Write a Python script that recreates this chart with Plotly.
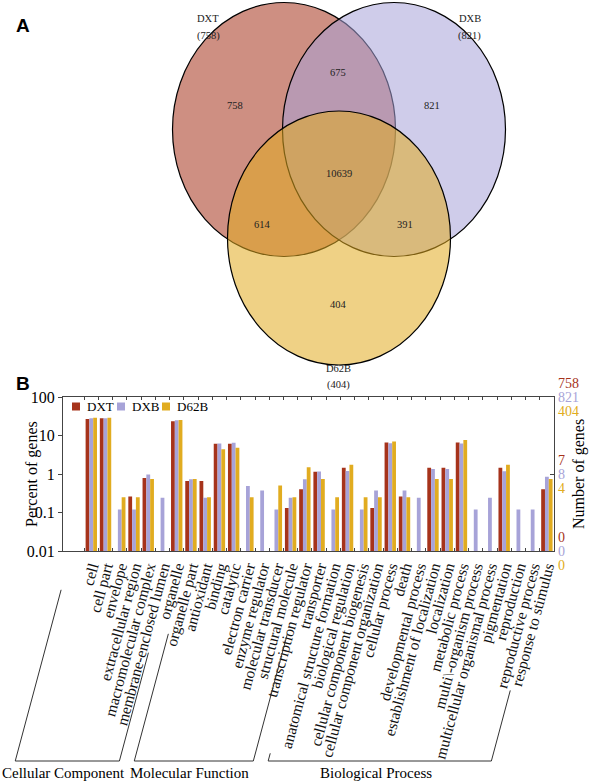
import math
import plotly.graph_objects as go

# ---------------- data ----------------
categories = [
    "cell", "cell part", "envelope", "extracellular region", "macromolecular complex",
    "membrane-enclosed lumen", "organelle", "organelle part",
    "antioxidant", "binding", "catalytic", "electron carrier", "enzyme regulator",
    "molecular transducer", "structural molecule", "transcription regulator", "transporter",
    "anatomical structure formation", "biological regulation", "cellular component biogenesis",
    "cellular component organization", "cellular process", "death", "developmental process",
    "establishment of localization", "localization", "metabolic process",
    "multi\\-organism process", "multicellular organismal process", "pigmentation",
    "reproduction", "reproductive process", "response to stimulus",
]
series_names = ["DXT", "DXB", "D62B"]
dxt = [26.9, 27.9, None, 0.26, 0.79, None, 23.4, 0.66,
       0.66, 6.1, 6.1, None, None, None, 0.13, 0.40, 1.14,
       None, 1.45, None, 0.13, 6.6, 0.26, None, 1.45, 1.45, 6.6,
       None, None, 1.45, None, None, 0.40]
dxb = [27.9, 27.9, 0.12, 0.12, 0.97, 0.24, 24.8, 0.73,
       0.24, 6.2, 6.5, 0.49, 0.37, 0.12, 0.24, 0.73, 1.16,
       0.12, 1.20, 0.12, 0.37, 6.3, 0.37, 0.24, 1.34, 1.34, 6.2,
       0.12, 0.24, 1.18, 0.12, 0.12, 0.85]
d62b = [29.1, 29.1, 0.25, 0.25, 0.74, None, 25.3, 0.74,
        0.25, 4.4, 4.8, 0.25, None, 0.50, 0.25, 1.49, 0.74,
        0.25, 1.73, 0.25, 0.25, 7.0, 0.25, None, 0.74, 0.74, 7.6,
        None, None, 1.73, None, None, 0.74]
groups = [("Cellular Component", 0, 7), ("Molecular Function", 8, 16), ("Biological Process", 17, 32)]

# Venn diagram counts
venn_totals = [758, 821, 404]          # DXT, DXB, D62B
venn_regions = {"DXT": 758, "DXB": 821, "D62B": 404,
                "DXT&DXB": 675, "DXT&D62B": 614, "DXB&D62B": 391, "all": 10639}

right_levels = [100, 1, 0.01]          # percent levels labelled on the right axis
left_ticks = [0.01, 0.1, 1, 10, 100]
left_ticktext = ["0.01", "0.1", "1", "10", "100"]

# ---------------- style ----------------
colors = ["#a6331b", "#a7a3d8", "#e1ac20"]
fills = ["rgba(166,51,27,0.55)", "rgba(167,163,216,0.55)", "rgba(225,172,32,0.55)"]
SERIF = "Liberation Serif, Times New Roman, serif"
W, H = 600, 782
PL, PR, PT, PB = 63, 554, 397, 551
CAT_FS = 15.5


def px(x):
    return x / W


def py(y):
    return 1 - y / H


fig = go.Figure()
for name, vals, col in zip(series_names, [dxt, dxb, d62b], colors):
    fig.add_trace(go.Bar(x=categories, y=vals, name=name, marker=dict(color=col, line=dict(width=0)),
                         showlegend=False))

axis_col = "#444444"
fig.update_layout(
    template="none",
    width=W, height=H, margin=dict(l=0, r=0, t=0, b=0, pad=0, autoexpand=False),
    paper_bgcolor="white", plot_bgcolor="white", showlegend=False,
    barmode="group", bargap=0.2, bargroupgap=0,
    font=dict(family=SERIF, size=15, color="black"),
    xaxis=dict(domain=[px(PL), px(PR)], type="category", tickson="boundaries",
               tickmode="array", tickvals=categories, ticktext=categories,
               ticks="inside", ticklen=3, tickcolor=axis_col, showline=True, linecolor=axis_col,
               linewidth=1, mirror="ticks", showgrid=False, tickangle=-75, automargin=False,
               tickfont=dict(family=SERIF, size=CAT_FS, color="#111"), anchor="y"),
    yaxis=dict(domain=[py(PB), py(PT)], type="log", range=[-2, 2], tickvals=left_ticks,
               ticktext=left_ticktext, ticks="outside", ticklen=4, tickcolor=axis_col,
               showline=True, linecolor=axis_col, linewidth=1, showgrid=False, zeroline=False,
               automargin=False, tickfont=dict(family=SERIF, size=16, color="black"), anchor="x"),
    yaxis2=dict(domain=[py(PB), py(PT)], type="log", range=[-2, 2], overlaying="y", side="right",
                tickvals=right_levels, showticklabels=False, ticks="inside", ticklen=4,
                tickcolor=axis_col, showline=True, linecolor=axis_col, linewidth=1,
                showgrid=False, zeroline=False, automargin=False, anchor="x"),
)
# invisible trace to activate the right axis
fig.add_trace(go.Scatter(x=[categories[0]], y=[1], yaxis="y2", mode="markers",
                         marker=dict(opacity=0), showlegend=False, hoverinfo="skip"))

ann = []
shapes = []

# ---- right axis coloured gene counts ----
for lvl in right_levels:
    for k, (tot, col) in enumerate(zip(venn_totals, colors)):
        ann.append(dict(x=px(PR + 2), xref="paper", y=math.log10(lvl), yref="y",
                        text=str(int(tot * lvl / 100)), showarrow=False, xanchor="left",
                        yanchor="middle", yshift=14 - 14 * k,
                        font=dict(family=SERIF, size=14, color=col)))

# axis titles
ann.append(dict(x=px(21), y=py((PT + PB) / 2), xref="paper", yref="paper", text="Percent of genes",
                textangle=-90, showarrow=False, font=dict(family=SERIF, size=16)))
ann.append(dict(x=px(590), y=py((PT + PB) / 2), xref="paper", yref="paper", text="Number of genes",
                textangle=-90, showarrow=False, font=dict(family=SERIF, size=16)))

# manual legend
leg_x = [76, 121, 166]
for name, col, lx in zip(series_names, colors, leg_x):
    shapes.append(dict(type="rect", xref="paper", yref="paper", x0=px(lx - 4), x1=px(lx + 4),
                       y0=py(410.5), y1=py(402.5), fillcolor=col, line=dict(width=0)))
    ann.append(dict(x=px(lx + 9), y=py(406.5), xref="paper", yref="paper", text=name,
                    showarrow=False, xanchor="left", yanchor="middle",
                    font=dict(family=SERIF, size=13)))

# ---- group brackets ----
theta = math.radians(75)
n = len(categories)


def cx(i):
    return PL + (i + 0.5) * (PR - PL) / n


def char_len(s):
    return 0.42 * CAT_FS * len(s)


def along(i, d):
    x0, y0 = cx(i), PB + 4
    return x0 - d * math.cos(theta), y0 + d * math.sin(theta)


def at_y(i, y):
    x0, y0 = cx(i), PB + 4
    return x0 - (y - y0) / math.tan(theta)


BY = 761
for gname, a, b in groups:
    ax_, ay_ = along(a, char_len(categories[a]) + 10)
    bx_, by_ = along(b, char_len(categories[b]) + 10)
    lx0 = at_y(a, BY)
    rx0 = at_y(b, BY)
    path = "M{},{} L{},{} L{},{} L{},{}".format(px(ax_), py(ay_), px(lx0), py(BY), px(rx0), py(BY),
                                                 px(bx_), py(by_))
    shapes.append(dict(type="path", xref="paper", yref="paper", path=path,
                       line=dict(color="#333333", width=1)))
    ann.append(dict(x=px((lx0 + rx0) / 2 - 4), y=py(773), xref="paper", yref="paper", text=gname,
                    showarrow=False, xanchor="center", yanchor="middle",
                    font=dict(family=SERIF, size=15)))

# ---- Venn diagram ----
venn_geom = [(284, 129.5), (394, 129.5), (339, 238)]
RX, RY = 111.5, 127
for (vx, vy), fc in zip(venn_geom, fills):
    shapes.append(dict(type="circle", xref="paper", yref="paper", x0=px(vx - RX), x1=px(vx + RX),
                       y0=py(vy + RY), y1=py(vy - RY), fillcolor=fc,
                       line=dict(color="black", width=1.2)))

region_pos = {"DXT": (235, 98), "DXB": (442, 98), "D62B": (338, 304), "DXT&DXB": (338, 65),
              "DXT&D62B": (262, 217), "DXB&D62B": (415, 217), "all": (339, 166)}
for key, (vx, vy) in region_pos.items():
    ann.append(dict(x=px(vx), y=py(vy), xref="paper", yref="paper", text=str(venn_regions[key]),
                    showarrow=False, font=dict(family=SERIF, size=10.5, color="#222")))
set_label_pos = [(195, 11.5), (483, 11.5), (339, 368)]
for name, tot, (vx, vy) in zip(series_names, venn_totals, set_label_pos):
    ann.append(dict(x=px(vx), y=py(vy), xref="paper", yref="paper", text=name,
                    showarrow=False, font=dict(family=SERIF, size=10.5, color="#222")))
    ann.append(dict(x=px(vx), y=py(vy + 16.5), xref="paper", yref="paper", text="(%d)" % tot,
                    showarrow=False, font=dict(family=SERIF, size=10.5, color="#222")))

# panel letters
for letter, (lx, ly) in [("A", (14, 13)), ("B", (14, 383))]:
    ann.append(dict(x=px(lx), y=py(ly), xref="paper", yref="paper", text="<b>%s</b>" % letter,
                    showarrow=False, font=dict(family="Liberation Sans, Arial, sans-serif", size=19,
                                               color="black")))

fig.update_layout(annotations=ann, shapes=shapes)
fig.write_html("out.html", config={"displayModeBar": False},
               post_script="document.body.style.margin='0';")
